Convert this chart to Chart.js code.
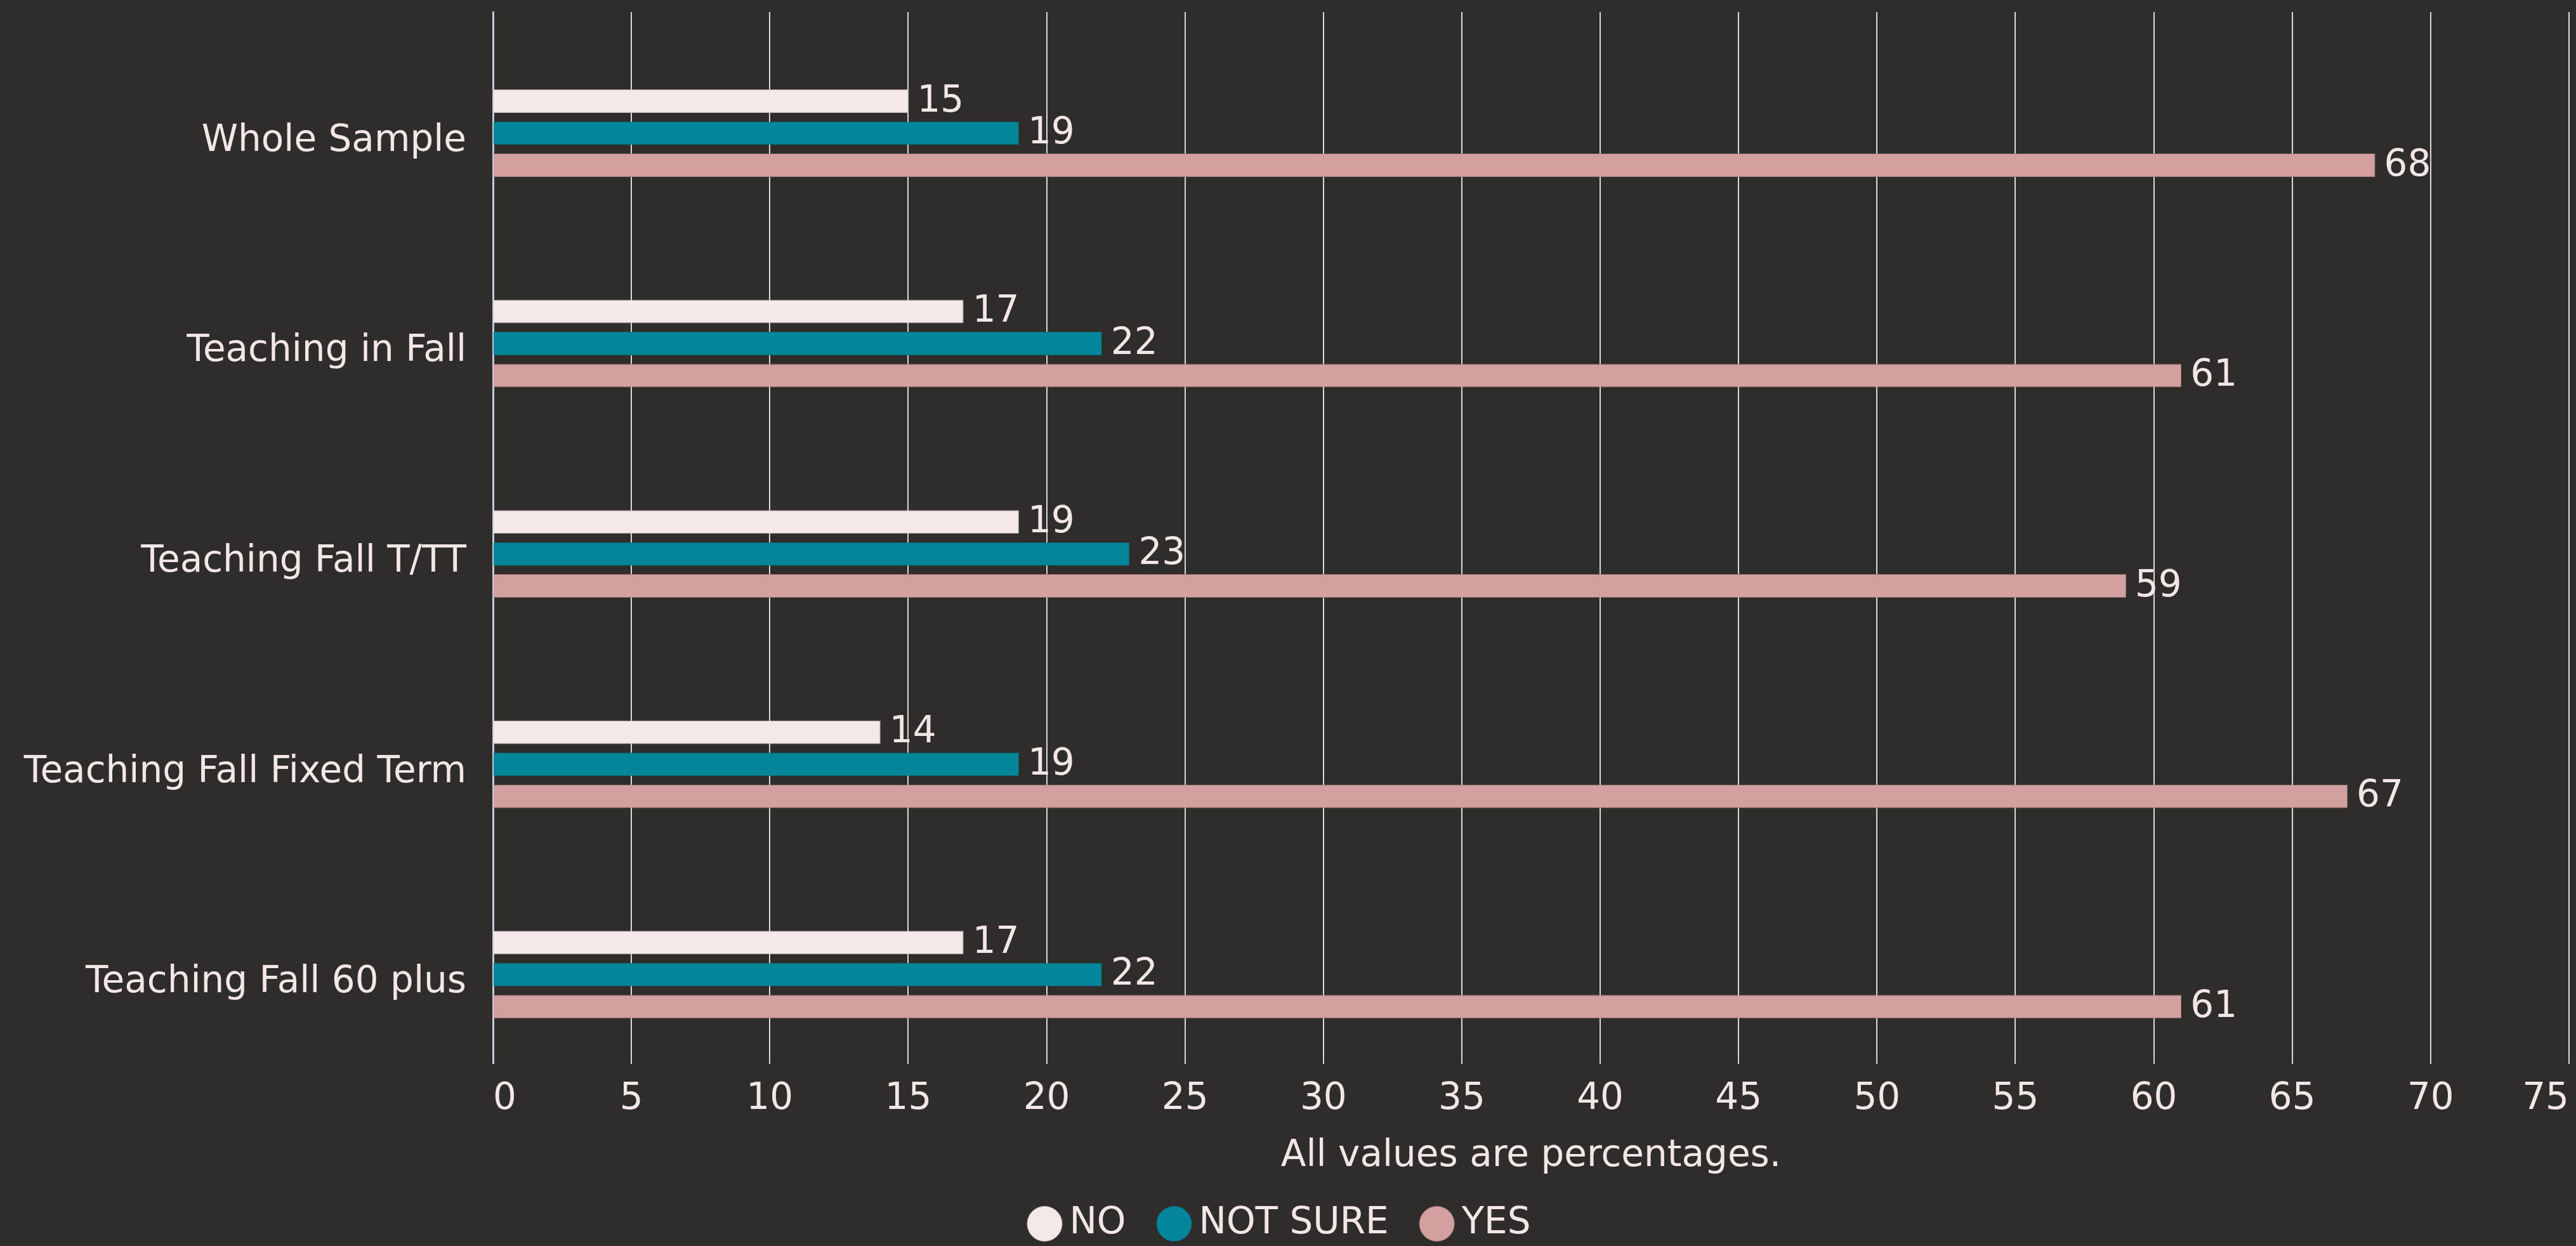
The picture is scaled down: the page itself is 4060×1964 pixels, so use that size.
<!DOCTYPE html>
<html>
<head>
<meta charset="utf-8">
<title>Teaching survey</title>
<script src="https://cdn.jsdelivr.net/npm/chart.js@4.4.1/dist/chart.umd.min.js"></script>
<style>
    html, body {
        margin: 0;
        padding: 0;
        background: #2f2d2b;
        overflow: hidden;
    }
    canvas {
        display: block;
    }
</style>
</head>
<body>
<canvas id="surveyChart" width="4060" height="1964"></canvas>
<script>
// Chart data
const groups = ['Whole Sample', 'Teaching in Fall', 'Teaching Fall T/TT', 'Teaching Fall Fixed Term', 'Teaching Fall 60 plus'];
const noValues = [15, 17, 19, 14, 17];
const notSureValues = [19, 22, 23, 19, 22];
const yesValues = [68, 61, 59, 67, 61];
const xTicks = [0, 5, 10, 15, 20, 25, 30, 35, 40, 45, 50, 55, 60, 65, 70, 75];

const textColor = '#f3e6e6';
const fontFamily = '"DejaVu Sans", sans-serif';
const fontSize = 58;

// Draw value labels at the end of each bar
const valueLabels = {
    id: 'valueLabels',
    afterDatasetsDraw(chart) {
        const ctx = chart.ctx;
        ctx.save();
        ctx.font = `${fontSize}px ${fontFamily}`;
        ctx.fillStyle = textColor;
        ctx.textAlign = 'left';
        ctx.textBaseline = 'middle';
        chart.data.datasets.forEach((ds, i) => {
            if (!ds.label) return;
            const meta = chart.getDatasetMeta(i);
            meta.data.forEach((bar, j) => {
                ctx.fillText(ds.data[j], bar.x + 14, bar.y + 1);
            });
        });
        ctx.restore();
    }
};

function createChart() {
    const ctx = document.getElementById('surveyChart');

    Chart.defaults.font.family = fontFamily;
    Chart.defaults.font.size = fontSize;
    Chart.defaults.color = textColor;

    new Chart(ctx, {
        type: 'bar',
        data: {
            labels: groups,
            datasets: [
                // empty slot above the NO bar, as in the original layout
                { label: '', data: [], backgroundColor: 'transparent' },
                {
                    label: 'NO',
                    data: noValues,
                    backgroundColor: '#f4e8e8',
                    borderColor: '#b9adad',
                    borderWidth: 1
                },
                {
                    label: 'NOT SURE',
                    data: notSureValues,
                    backgroundColor: '#02879a',
                    borderColor: '#0a6674',
                    borderWidth: 1
                },
                {
                    label: 'YES',
                    data: yesValues,
                    backgroundColor: '#d4a09f',
                    borderColor: '#9c7574',
                    borderWidth: 1
                }
            ]
        },
        options: {
            indexAxis: 'y',
            responsive: false,
            devicePixelRatio: 1,
            animation: false,
            categoryPercentage: 0.609,
            barPercentage: 0.733,
            layout: {
                padding: { top: 19, right: 11, bottom: -4, left: 0 }
            },
            scales: {
                x: {
                    min: 0,
                    max: 75,
                    afterBuildTicks: scale => {
                        scale.ticks = xTicks.map(v => ({ value: v }));
                    },
                    afterFit: scale => {
                        scale.paddingLeft = 0;
                        scale.paddingRight = 0;
                    },
                    grid: {
                        color: '#dadada',
                        lineWidth: 2,
                        drawTicks: false
                    },
                    border: { display: false },
                    ticks: {
                        align: 'inner',
                        padding: 21,
                        color: textColor
                    },
                    title: {
                        display: true,
                        text: 'All values are percentages.',
                        color: textColor,
                        padding: { top: 0, bottom: -24 }
                    }
                },
                y: {
                    afterFit: scale => {
                        scale.width = 777;
                        scale.paddingTop = 0;
                        scale.paddingBottom = 0;
                    },
                    grid: { display: false, drawTicks: false },
                    border: {
                        display: true,
                        color: '#c3cbdc',
                        width: 3
                    },
                    ticks: {
                        padding: 42,
                        labelOffset: 38,
                        color: textColor
                    }
                }
            },
            plugins: {
                legend: {
                    position: 'bottom',
                    labels: {
                        usePointStyle: true,
                        pointStyle: 'circle',
                        boxWidth: 20,
                        boxHeight: 39,
                        padding: 66,
                        color: textColor,
                        filter: item => item.text !== ''
                    }
                },
                tooltip: { enabled: false }
            }
        },
        plugins: [valueLabels]
    });
}

createChart();
</script>
</body>
</html>
